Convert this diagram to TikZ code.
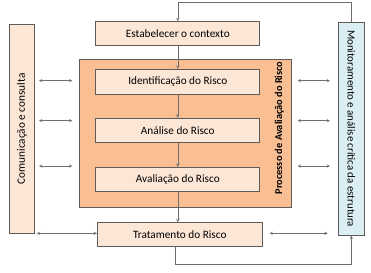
\documentclass[tikz,border=0pt]{standalone}
\usepackage{fontspec}
\setmainfont{Carlito}
\usetikzlibrary{arrows,calc}
\definecolor{BoxClr}{HTML}{FCE6D6}
\definecolor{ProcClr}{HTML}{F9BF93}
\definecolor{MonClr}{HTML}{DAEEF3}
\definecolor{LineClr}{HTML}{5E5A58}
\definecolor{ArrClr}{HTML}{6E6E6E}

\begin{document}
\begin{tikzpicture}[x=1bp,y=-1bp,
  box/.style={draw=LineClr,line width=0.8pt,fill=BoxClr,inner sep=0pt,
    font=\fontsize{11.3}{13}\selectfont},
  link/.style={->,>=stealth,draw=ArrClr,line width=0.6pt},
  both/.style={<->,>=stealth,draw=ArrClr,line width=0.5pt}]
\useasboundingbox (0,0) rectangle (371,273);

\node[box,fill=ProcClr,minimum width=212bp,minimum height=148bp] (proc) at (185,133) {};
\node[rotate=90,font=\fontsize{10.4}{12}\selectfont\bfseries] (proclbl) at (279.3,128) {Processo de Avaliação do Risco};

\node[box,minimum width=164bp,minimum height=24bp] (ctx) at (177.8,33.7) {Estabelecer o contexto};
\node[box,minimum width=164bp,minimum height=24.5bp] (ident) at (177.8,81.7) {Identificação do Risco};
\node[box,minimum width=164bp,minimum height=24.5bp] (anal) at (177.8,130.5) {Análise do Risco};
\node[box,minimum width=164bp,minimum height=24bp] (aval) at (177.8,179.3) {Avaliação do Risco};
\node[box,minimum width=165bp,minimum height=24bp] (trat) at (179.8,234.7) {Tratamento do Risco};

\node[box,rotate=90,minimum width=209bp,minimum height=25.7bp] (com) at (21.8,128.8) {Comunicação e consulta};
\node[box,fill=MonClr,rotate=-90,minimum width=212.7bp,minimum height=25.3bp,
  font=\fontsize{10.9}{13}\selectfont] (mon) at (351.3,128.7) {Monitoramento e análise crítica da estrutura};

\draw[link] (ctx) -- (ident);
\draw[link] (ident) -- (anal);
\draw[link] (anal) -- (aval);
\draw[link] (aval.south) -- (aval.south |- trat.north);

\coordinate (top) at (0,2.7);
\coordinate (bot) at (0,264.3);
\draw[link] (mon.west) -- (mon.west |- top) -| (ctx.north);
\draw[link] ([xshift=-4.8bp]trat.south) -- ([xshift=-4.8bp]trat.south |- bot) -| (mon.east);

\foreach \y [count=\i] in {80.7,120.7,166}{
  \coordinate (l\i a) at (39,\y);
  \coordinate (l\i b) at (72.3,\y);
  \coordinate (r\i a) at (297.7,\y);
  \coordinate (r\i b) at (330,\y);
  \draw[both] (l\i a) -- (l\i b);
  \draw[both] (r\i a) -- (r\i b);
}
\coordinate (lb) at (36.7,233.3);
\coordinate (rb) at (327.7,233.3);
\draw[both] (lb) -- (lb -| trat.west);
\draw[both] ([xshift=6.7bp]trat.east |- rb) -- (rb);

\end{tikzpicture}
\end{document}
